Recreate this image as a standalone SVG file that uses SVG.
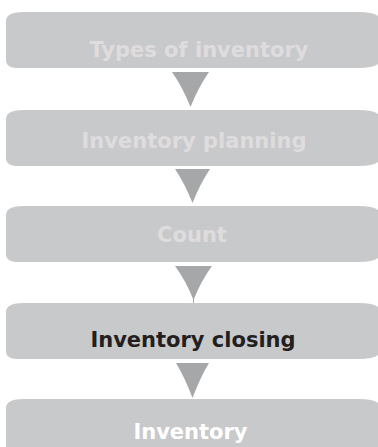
<svg xmlns="http://www.w3.org/2000/svg" width="378" height="447" viewBox="0 0 378 447">
  <style>
    .box { fill: #c8c9cb; }
    .arrow { fill: #a6a7a9; }
    .label { font-family: "DejaVu Sans", Verdana, sans-serif; font-weight: bold; font-size: 21px; text-anchor: middle; }
    .faded { fill: #dfdcde; }
    .dark { fill: #231f20; }
    .white { fill: #ffffff; }
  </style>
  <defs>
    <path id="boxshape" d="M18,0 H352 Q374,0 374,8 V48 Q374,56 352,56 H12 Q0,56 0,48 V9 Q0,0 18,0 Z"/>
  </defs>
  <g id="connectors">
    <path class="arrow" d="M172,72 H209 Q198.5,87 190.5,107 Q182.5,87 172,72 Z"/>
    <path class="arrow" d="M175,169 H210 Q200.5,183 192.5,203 Q184.5,183 175,169 Z"/>
    <path class="arrow" d="M175,266 H212 Q201.5,280 193.5,300 Q185.5,280 175,266 Z"/>
    <line x1="193.5" y1="299" x2="193.5" y2="303" stroke="#a6a7a9" stroke-width="1"/>
    <path class="arrow" d="M176,363 H209 Q200,378 192.5,398 Q185,378 176,363 Z"/>
  </g>
  <g id="node1">
    <use href="#boxshape" class="box" transform="translate(6,12)"/>
    <text class="label faded" x="199" y="57">Types of inventory</text>
  </g>
  <g id="node2">
    <use href="#boxshape" class="box" transform="translate(6,110)"/>
    <text class="label faded" x="194" y="148">Inventory planning</text>
  </g>
  <g id="node3">
    <use href="#boxshape" class="box" transform="translate(6,206)"/>
    <text class="label faded" x="192" y="242">Count</text>
  </g>
  <g id="node4">
    <use href="#boxshape" class="box" transform="translate(6,303)"/>
    <text class="label dark" x="193" y="347">Inventory closing</text>
  </g>
  <g id="node5">
    <use href="#boxshape" class="box" transform="translate(6,399)"/>
    <text class="label white" x="190.5" y="439">Inventory</text>
  </g>
</svg>
